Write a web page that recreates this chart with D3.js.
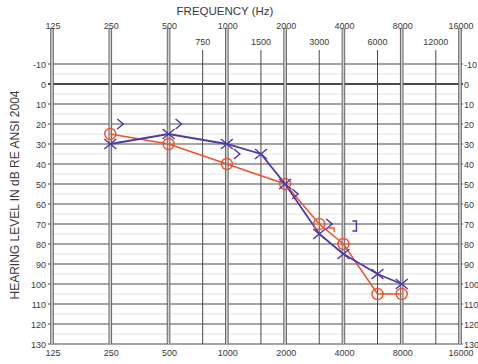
<!DOCTYPE html>
<html>
<head>
<meta charset="utf-8">
<script src="https://cdn.jsdelivr.net/npm/d3@7"></script>
<style>
  body { margin: 0; background: #fff; }
  text { font-family: "Liberation Sans", Arial, sans-serif; fill: #3a3a3a; }
</style>
</head>
<body>
<svg id="chart" width="478" height="364"></svg>
<script>
// octave / inter-octave frequencies
const octaveFreqs = [125, 250, 500, 1000, 2000, 4000, 8000, 16000];
const interFreqs = [750, 1500, 3000, 6000, 12000];
const levelTicks = d3.range(-10, 131, 10);

// right ear, air conduction (red O)
const rightFreqs = [250, 500, 1000, 2000, 3000, 4000, 6000, 8000];
const rightLevels = [25, 30, 40, 50, 70, 80, 105, 105];

// left ear, air conduction (blue X)
const leftFreqs = [250, 500, 1000, 1500, 2000, 3000, 4000, 6000, 8000];
const leftLevels = [30, 25, 30, 35, 50, 75, 85, 95, 100];

// left ear bone conduction, unmasked ">" and masked "]"
const boneFreqs = [250, 500, 1000, 2000, 3000];
const boneLevels = [20, 20, 35, 55, 70];
const maskedBoneFreqs = [4000];
const maskedBoneLevels = [70];

const red = "#f0502a";
const blue = "#4b3aa6";

const svg = d3.select("#chart");

const x = d3.scaleLog().base(2).domain([125, 16000]).range([52, 460]);
const y = d3.scaleLinear().domain([-10, 130]).range([64, 344]);

const grid = svg.append("g");

// faint 5 dB lines
grid.selectAll(".minor")
  .data(d3.range(-5, 130, 10))
  .enter().append("line")
  .attr("x1", x(125)).attr("x2", x(16000))
  .attr("y1", d => y(d)).attr("y2", d => y(d))
  .attr("stroke", "#e4e4e4").attr("stroke-width", 1);

// dark 10 dB lines
grid.selectAll(".major")
  .data(levelTicks)
  .enter().append("line")
  .attr("x1", x(125) - 4).attr("x2", x(16000) + 3)
  .attr("y1", d => y(d)).attr("y2", d => y(d))
  .attr("stroke", "#4a4a4a")
  .attr("stroke-width", d => d === 0 ? 2 : 1.1);

// inter-octave single lines
grid.selectAll(".inter")
  .data(interFreqs)
  .enter().append("line")
  .attr("x1", d => x(d)).attr("x2", d => x(d))
  .attr("y1", 50).attr("y2", y(130))
  .attr("stroke", "#4a4a4a").attr("stroke-width", 1);

// octave double lines
octaveFreqs.forEach(f => {
  grid.append("rect")
    .attr("x", x(f) - 1.2).attr("y", 28)
    .attr("width", 2.4).attr("height", y(130) - 28)
    .attr("fill", "#d2d2d2");
  [-1.3, 1.3].forEach(off => {
    grid.append("line")
      .attr("x1", x(f) + off).attr("x2", x(f) + off)
      .attr("y1", 28).attr("y2", y(130))
      .attr("stroke", "#555").attr("stroke-width", 0.9);
  });
});

// labels
const fmt = d => d === 0 ? "0" : String(d);
svg.selectAll(".ltick")
  .data(levelTicks)
  .enter().append("text")
  .attr("x", 46).attr("y", d => y(d) + 3.5)
  .attr("text-anchor", "end").attr("font-size", 9)
  .text(fmt);
svg.selectAll(".rtick")
  .data(levelTicks)
  .enter().append("text")
  .attr("x", 464).attr("y", d => y(d) + 3.5)
  .attr("font-size", 9)
  .text(fmt);

svg.selectAll(".toct")
  .data(octaveFreqs)
  .enter().append("text")
  .attr("x", d => x(d) + 1).attr("y", 29)
  .attr("text-anchor", "middle").attr("font-size", 9)
  .text(d => d);
svg.selectAll(".tint")
  .data(interFreqs)
  .enter().append("text")
  .attr("x", d => x(d)).attr("y", 45)
  .attr("text-anchor", "middle").attr("font-size", 9)
  .text(d => d);
svg.selectAll(".boct")
  .data(octaveFreqs)
  .enter().append("text")
  .attr("x", d => x(d) + 1).attr("y", 356)
  .attr("text-anchor", "middle").attr("font-size", 9)
  .text(d => d);

svg.append("text")
  .attr("x", 225).attr("y", 15)
  .attr("text-anchor", "middle").attr("font-size", 11.5)
  .text("FREQUENCY (Hz)");

svg.append("text")
  .attr("transform", "translate(19,195) rotate(-90)")
  .attr("text-anchor", "middle").attr("font-size", 12)
  .text("HEARING LEVEL IN dB RE ANSI 2004");

// data lines
const line = d3.line().x(d => x(d[0])).y(d => y(d[1]));
const rightPts = d3.zip(rightFreqs, rightLevels);
const leftPts = d3.zip(leftFreqs, leftLevels);

svg.append("path").datum(rightPts)
  .attr("d", line).attr("fill", "none")
  .attr("stroke", red).attr("stroke-width", 1.5);
svg.append("path").datum(leftPts)
  .attr("d", line).attr("fill", "none")
  .attr("stroke", blue).attr("stroke-width", 1.8);

// symbols
svg.selectAll(".o").data(rightPts).enter().append("circle")
  .attr("cx", d => x(d[0])).attr("cy", d => y(d[1]))
  .attr("r", 5.5).attr("fill", "none")
  .attr("stroke", red).attr("stroke-width", 1.4);

svg.selectAll(".x").data(leftPts).enter().append("path")
  .attr("transform", d => `translate(${x(d[0])},${y(d[1])})`)
  .attr("d", "M-6,-5L6,5M-6,5L6,-5")
  .attr("stroke", blue).attr("stroke-width", 1.5).attr("fill", "none");

svg.selectAll(".bone").data(d3.zip(boneFreqs, boneLevels)).enter().append("path")
  .attr("transform", d => `translate(${x(d[0]) + 10},${y(d[1])})`)
  .attr("d", "M-3,-5L3,0L-3,5")
  .attr("stroke", blue).attr("stroke-width", 1.5).attr("fill", "none");

svg.selectAll(".mbone").data(d3.zip(maskedBoneFreqs, maskedBoneLevels)).enter().append("path")
  .attr("transform", d => `translate(${x(d[0]) + 11},${y(d[1]) + 2})`)
  .attr("d", "M-2,-5L2,-5L2,5L-2,5")
  .attr("stroke", blue).attr("stroke-width", 1.5).attr("fill", "none");

// small red masked-bone mark between 3000 and 4000
svg.append("path")
  .attr("transform", `translate(${x(3500)},${y(72)})`)
  .attr("d", "M-4,0L2,0L2,4")
  .attr("stroke", red).attr("stroke-width", 1.3).attr("fill", "none");
</script>
</body>
</html>
